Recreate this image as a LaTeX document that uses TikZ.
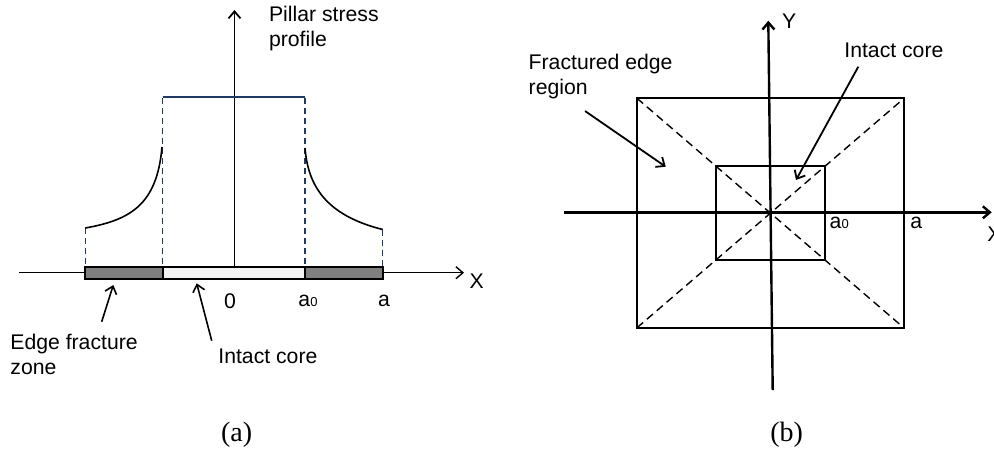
\documentclass[tikz,border=0pt]{standalone}
\usepackage{fontspec}
\setmainfont{Liberation Sans}
\newfontfamily\capfont{Liberation Serif}
\usetikzlibrary{arrows.meta}
\definecolor{profblue}{RGB}{31,56,100}
\definecolor{edgegray}{RGB}{128,128,128}
\definecolor{coregray}{RGB}{243,243,243}
\newcommand{\azero}{a{\fontsize{6.5}{6.5}\selectfont 0}}

\begin{document}
\begin{tikzpicture}[x=0.5pt,y=-0.5pt,
  >={Straight Barb[length=3.5pt,width=6pt]},
  lbl/.style={inner sep=0pt,font=\fontsize{10.6}{12.5}\selectfont,align=left},
  subcap/.style={inner sep=0pt,font=\capfont\fontsize{14}{14}\selectfont},
  guide/.style={profblue,dash pattern=on 3pt off 2pt,line width=0.7pt},
  diag/.style={dash pattern=on 4pt off 2.5pt,line width=0.7pt}]
\useasboundingbox[fill=white] (0,0) rectangle (994,452);

% (a) pillar stress profile
\coordinate (xa0) at (19,272.7);
\coordinate (xa1) at (464,272.7);
\coordinate (ya0) at (234.5,267.3);
\coordinate (ya1) at (234.5,10);
\draw[line width=0.7pt,->] (xa0) -- (xa1);
\draw[fill=edgegray,line width=0.9pt] (85.3,267.3) rectangle (162.7,278.7);
\draw[fill=coregray,line width=0.9pt] (162.7,267.3) rectangle (305,278.7);
\draw[fill=edgegray,line width=0.9pt] (305,267.3) rectangle (382.7,278.7);
\draw[line width=0.9pt,->] (ya0) -- (ya1);
\draw[profblue,line width=1pt] (162.7,96.5) -- (305,96.5);
\draw[guide] (162.7,98) -- (162.7,267.3);
\draw[guide] (305,98) -- (305,267.3);
\draw[guide] (85.3,228) -- (85.3,267.3);
\draw[guide] (382.7,229.5) -- (382.7,267.3);
\draw[line width=0.8pt] (85.3,228) .. controls (130,220) and (157,205) .. (162,147);
\draw[line width=0.8pt] (305,148) .. controls (308,185) and (325,215) .. (382.7,229.5);

\node[lbl,anchor=west] (prof) at (268.7,28.3) {Pillar stress\\profile};
\node[lbl] (xlabA) at (476.7,281) {X};
\node[lbl] (zeroA) at (230,300.7) {0};
\node[lbl] (azA) at (308,300.7) {\azero};
\node[lbl] (aA) at (384,300.7) {a};
\node[lbl,anchor=west] (efz) at (10,354.3) {Edge fracture\\zone};
\node[lbl,anchor=west] (coreA) at (218,356.7) {Intact core};
\coordinate (efz0) at (101.7,321.7);
\coordinate (efz1) at (113.3,285);
\coordinate (coreA0) at (211.7,340.7);
\coordinate (coreA1) at (196.7,283.3);
\draw[line width=0.8pt,->] (efz0) -- (efz1);
\draw[line width=0.8pt,->] (coreA0) -- (coreA1);
\node[subcap] (capA) at (236.7,435) {(a)};

% (b) plan view of the pillar
\draw[line width=0.9pt] (637,98.3) rectangle (903.7,327.7);
\draw[line width=0.9pt] (715.7,166) rectangle (825.3,260);
\draw[diag] (637,98.3) -- (901,325.4);
\draw[diag] (637,327.7) -- (901.5,100.5);
\coordinate (xb0) at (564,212.3);
\coordinate (xb1) at (991.7,212.3);
\coordinate (yb0) at (772.7,390);
\coordinate (yb1) at (768.3,20.7);
\draw[line width=1.2pt,->] (xb0) -- (xb1);
\draw[line width=1.2pt,->] (yb0) -- (yb1);

\node[lbl] (ylabB) at (789.3,20.7) {Y};
\node[lbl,anchor=west] (xlabB) at (987,234) {X};
\node[lbl,anchor=west] (azB) at (829.3,223.3) {\azero};
\node[lbl,anchor=west] (aB) at (910,223.3) {a};
\node[lbl,anchor=west] (fer) at (528.3,77) {Fractured edge\\region};
\node[lbl,anchor=west] (coreB) at (844,50.7) {Intact core};
\coordinate (fer0) at (585,111);
\coordinate (fer1) at (665.7,166.7);
\coordinate (coreB0) at (858.3,66.7);
\coordinate (coreB1) at (796,180);
\draw[line width=0.9pt,->] (fer0) -- (fer1);
\draw[line width=0.9pt,->] (coreB0) -- (coreB1);
\node[subcap] (capB) at (786.7,435) {(b)};
\end{tikzpicture}
\end{document}
